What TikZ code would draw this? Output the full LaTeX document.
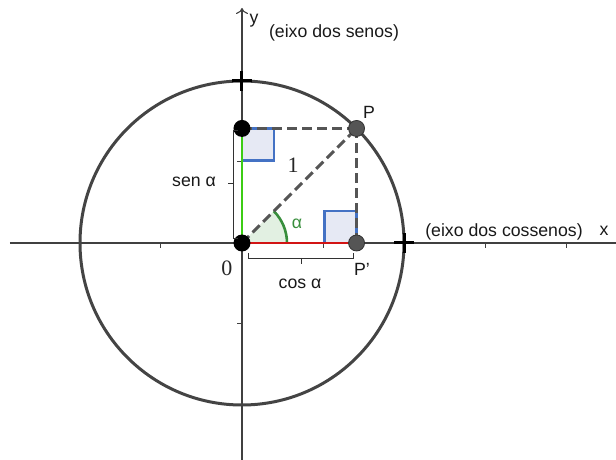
\documentclass[tikz,border=0pt]{standalone}
\usepackage{fontspec}
\setmainfont{Liberation Sans}
\newfontfamily\serifnum{Liberation Serif}
\usetikzlibrary{arrows.meta}
\definecolor{circcol}{RGB}{68,68,68}
\definecolor{dashcol}{RGB}{85,85,85}
\definecolor{sincol}{RGB}{60,205,20}
\definecolor{coscol}{RGB}{210,20,20}
\definecolor{sqline}{RGB}{68,114,196}
\definecolor{sqfill}{RGB}{230,233,244}
\definecolor{angline}{RGB}{56,142,60}
\definecolor{angfill}{RGB}{226,240,226}
\definecolor{ptgray}{RGB}{85,85,85}
\definecolor{bracecol}{RGB}{50,50,50}
\tikzset{
  axisline/.style={line width=1.1pt, draw=black!75},
  ticky/.style={line width=1pt, draw=black!75},
  dashline/.style={line width=3pt, draw=dashcol, dash pattern=on 10pt off 5pt},
  rightsq/.style={line width=2.4pt, draw=sqline, fill=sqfill},
  blackpt/.style={circle, fill=black, inner sep=0pt, minimum size=17pt},
  graypt/.style={circle, fill=ptgray, draw=black!80, line width=0.8pt, inner sep=0pt, minimum size=16pt},
  crossmark/.style={line width=3pt, draw=black},
  bracket/.style={line width=0.9pt, draw=bracecol},
  lbl/.style={font=\fontsize{17.7}{20}\selectfont, text=black!90, inner sep=0pt},
  numlbl/.style={font=\serifnum\fontsize{22}{24}\selectfont, text=black!85, inner sep=0pt}
}
\begin{document}
\begin{tikzpicture}[x=1pt,y=1pt]
\useasboundingbox (-242,-217) rectangle (374,243);
% named coordinates
\coordinate (O) at (0,0);
\coordinate (S) at (0,114.55);
\coordinate (P) at (114.55,114.55);
\coordinate (Pp) at (114.55,0);
\coordinate (xl) at (-232,0);
\coordinate (xr) at (374,0);
\coordinate (yb) at (0,-217);
\coordinate (yt) at (0,235);
% axes
\draw[axisline] (xl) -- (xr);
\draw[axisline, -{To[length=6pt,width=12pt]}] (yb) -- (yt);
\foreach \t in {-81,81,243,324} \draw[ticky] (\t,0) -- (\t,-5);
\foreach \t in {81,-81} \draw[ticky] (0,\t) -- (-5,\t);
% circle
\draw[line width=3pt, draw=circcol] (O) circle[radius=162];
% angle
\fill[angfill] (O) -- (45,0) arc[start angle=0,end angle=45,radius=45] -- cycle;
\draw[line width=2.6pt, draw=angline] (45,0) arc[start angle=0,end angle=45,radius=45];
% right angle squares
\draw[rightsq] (0,114.55) rectangle (32,82.55);
\draw[rightsq] (114.55,0) rectangle (82.55,32);
% sine and cosine
\draw[line width=2.8pt, draw=sincol] (O) -- (S);
\draw[line width=2.8pt, draw=coscol] (O) -- (Pp);
% dashed lines
\draw[dashline] (O) -- (P);
\draw[dashline] (S) -- (P);
\draw[dashline] (P) -- (Pp);
% crosses
\draw[crossmark] (-10,162) -- (10,162) (0,152) -- (0,172);
\draw[crossmark] (152,0) -- (172,0) (162,-10) -- (162,10);
% points
\node[blackpt] (nO) at (O) {};
\node[blackpt] (nS) at (S) {};
\node[graypt] (nP) at (P) {};
\node[graypt] (nPp) at (Pp) {};
% brackets
\draw[bracket] (-4,113) -- (-9,113) -- (-9,5) -- (-4,5);
\draw[bracket] (-9,60) -- (-14,60);
\draw[bracket] (6,-10) -- (6,-15) -- (111,-15) -- (111,-10);
\draw[bracket] (59,-15) -- (59,-21);
% labels
\node[lbl] (ly) at (12,222) {y};
\node[lbl] (lys) at (92,210) {(eixo dos senos)};
\node[lbl] (lxs) at (262,11) {(eixo dos cossenos)};
\node[lbl] (lx) at (362,12) {x};
\node[lbl] (lP) at (127,131) {P};
\node[lbl] (lPp) at (120,-26) {P'};
\node[lbl] (lsen) at (-48,61) {sen α};
\node[lbl] (lcos) at (58,-41) {cos α};
\node[lbl, text=angline] (lalpha) at (55,19) {α};
\node[numlbl] (l1) at (51,78) {1};
\node[numlbl] (l0) at (-15,-25) {0};
\end{tikzpicture}
\end{document}
